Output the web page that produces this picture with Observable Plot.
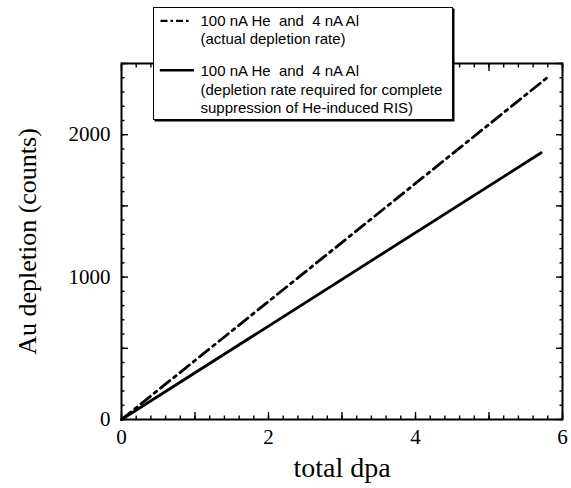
<!DOCTYPE html>
<html><head><meta charset="utf-8">
<script src="https://cdn.jsdelivr.net/npm/d3@7"></script>
<script src="https://cdn.jsdelivr.net/npm/@observablehq/plot@0.6"></script>
<style>
body{margin:0;background:#fff;}
#wrap{position:relative;width:571px;height:488px;}
#legend{position:absolute;left:152.5px;top:7.3px;width:300.5px;height:113px;box-sizing:border-box;border:1.5px solid #000;box-shadow:1.5px 1.5px 0 #000;background:#fff;font-family:"Liberation Sans",Arial,sans-serif;font-size:15px;color:#000;}
.lt{position:absolute;left:47px;white-space:pre;line-height:18px;}
.sw{position:absolute;left:0;top:0;}
</style></head>
<body><div id="wrap"></div>
<script>
// data
const actualDpa = [0, 5.79];
const actualCounts = [0, 2400];
const requiredDpa = [0, 5.71];
const requiredCounts = [0, 1873];
const xTickLabels = [0, 2, 4, 6];
const yTickLabels = [0, 1000, 2000];
const xMajorTicks = [0, 1, 2, 3, 4, 5, 6];
const yMajorTicks = [0, 500, 1000, 1500, 2000, 2500];
const xMinorTicks = d3.range(0, 6.001, 0.2);
const yMinorTicks = d3.range(0, 2501, 100);
const legendActual = ["100 nA He  and  4 nA Al", "(actual depletion rate)"];
const legendRequired = ["100 nA He  and  4 nA Al", "(depletion rate required for complete", "suppression of He-induced RIS)"];
const xLabel = "total dpa";
const yLabel = "Au depletion (counts)";

const actual = actualDpa.map((d, i) => ({dpa: d, counts: actualCounts[i]}));
const required = requiredDpa.map((d, i) => ({dpa: d, counts: requiredCounts[i]}));

const tickStyle = {fill: "none", label: null, stroke: "#000", strokeWidth: 1.4};

const plot = Plot.plot({
  width: 571, height: 488,
  marginLeft: 121, marginRight: 9, marginTop: 63, marginBottom: 69,
  style: {fontFamily: '"Liberation Serif","Times New Roman",serif', color: "#000", background: "#fff", overflow: "visible"},
  x: {domain: [0, 6]},
  y: {domain: [0, 2500]},
  marks: [
    Plot.line(actual, {x: "dpa", y: "counts", stroke: "#000", strokeWidth: 2.8, strokeDasharray: "12,5,3,5"}),
    Plot.line(required, {x: "dpa", y: "counts", stroke: "#000", strokeWidth: 2.8}),
    Plot.axisX({anchor: "bottom", ticks: xMinorTicks, tickSize: -3.5, ...tickStyle}),
    Plot.axisX({anchor: "bottom", ticks: xMajorTicks, tickSize: -7, ...tickStyle}),
    Plot.axisX({anchor: "top", ticks: xMinorTicks, tickSize: -3.5, ...tickStyle}),
    Plot.axisX({anchor: "top", ticks: xMajorTicks, tickSize: -7, ...tickStyle}),
    Plot.axisY({anchor: "left", ticks: yMinorTicks, tickSize: -3.5, ...tickStyle}),
    Plot.axisY({anchor: "left", ticks: yMajorTicks, tickSize: -7, ...tickStyle}),
    Plot.axisY({anchor: "right", ticks: yMinorTicks, tickSize: -3.5, ...tickStyle}),
    Plot.axisY({anchor: "right", ticks: yMajorTicks, tickSize: -7, ...tickStyle}),
    Plot.axisX({anchor: "bottom", ticks: xTickLabels, tickSize: 0, tickPadding: 10, fontSize: 21, label: null, tickFormat: d => String(d)}),
    Plot.axisY({anchor: "left", ticks: yTickLabels, tickSize: 0, tickPadding: 11, fontSize: 21, label: null, tickFormat: d => String(d)}),
    Plot.axisX({anchor: "bottom", ticks: [], label: xLabel, labelAnchor: "center", labelArrow: "none", labelOffset: 57, fontSize: 28}),
    Plot.axisY({anchor: "left", ticks: [], label: yLabel, labelAnchor: "center", labelArrow: "none", labelOffset: 104, fontSize: 26}),
    Plot.frame({stroke: "#000", strokeWidth: 2})
  ]
});
const wrap = document.getElementById("wrap");
wrap.appendChild(plot);

// legend
const lg = document.createElement("div");
lg.id = "legend";
const tops1 = [3.8, 22.1];
const tops2 = [54, 72.3, 90.6];
legendActual.forEach((t, i) => { const s = document.createElement("div"); s.className = "lt"; s.style.top = tops1[i] + "px"; s.textContent = t; lg.appendChild(s); });
legendRequired.forEach((t, i) => { const s = document.createElement("div"); s.className = "lt"; s.style.top = tops2[i] + "px"; s.textContent = t; lg.appendChild(s); });
const ns = "http://www.w3.org/2000/svg";
const sw = document.createElementNS(ns, "svg");
sw.setAttribute("class", "sw"); sw.setAttribute("width", 45); sw.setAttribute("height", 80);
sw.innerHTML = '<line x1="6.5" y1="12.9" x2="37.5" y2="12.9" stroke="#000" stroke-width="2.2" stroke-dasharray="7,3,2.5,3"/>' +
               '<line x1="5.8" y1="62.3" x2="40" y2="62.3" stroke="#000" stroke-width="2.4"/>';
lg.appendChild(sw);
wrap.appendChild(lg);
</script>
</body></html>
